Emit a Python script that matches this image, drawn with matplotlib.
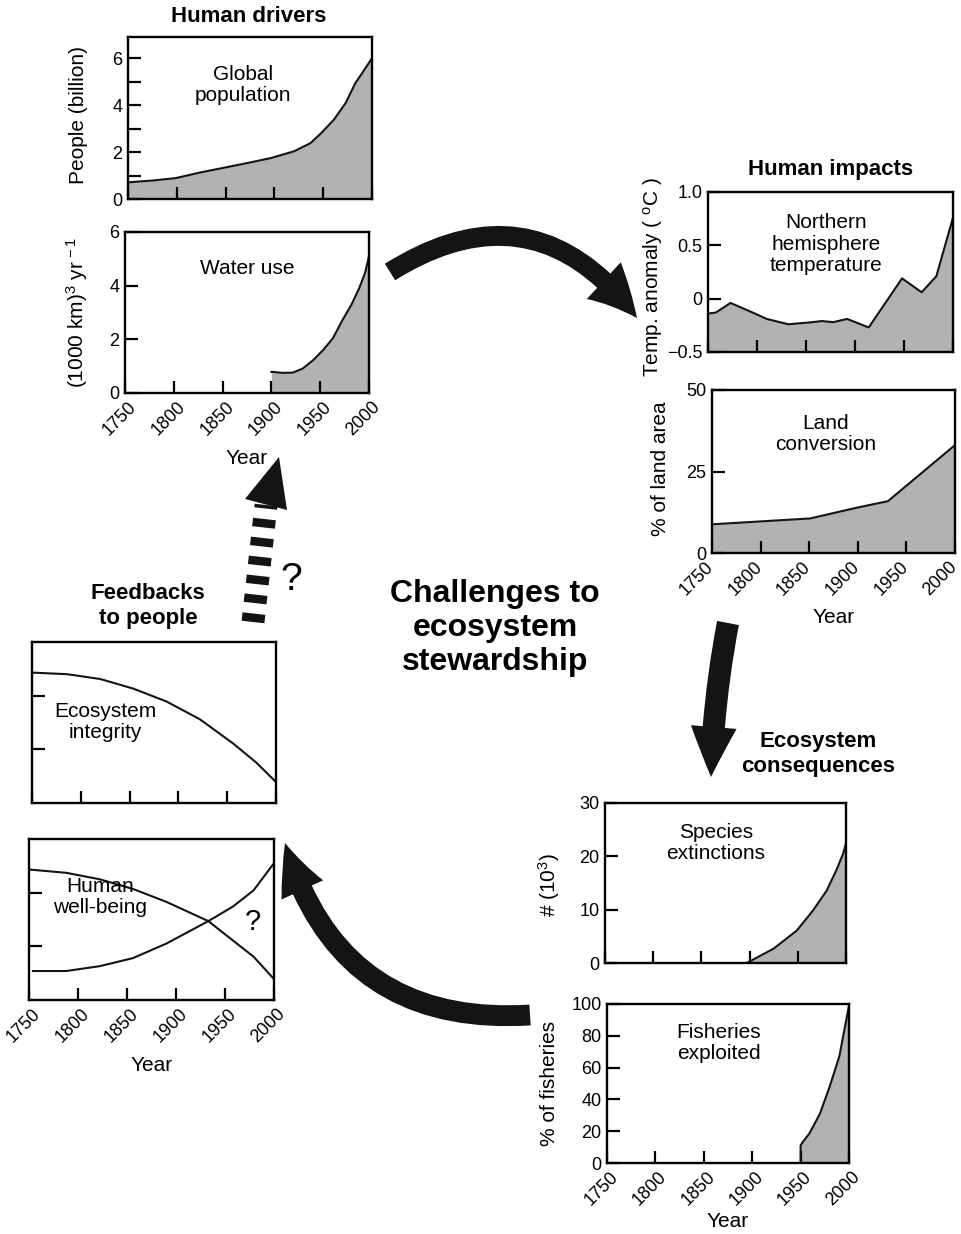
import numpy as np
import matplotlib
matplotlib.use('Agg')
import matplotlib.pyplot as plt
import matplotlib.transforms as mtransforms
from matplotlib.patches import FancyArrowPatch, Polygon

plt.rcParams['font.family'] = ['Liberation Sans', 'DejaVu Sans']
plt.rcParams['mathtext.fontset'] = 'custom'
plt.rcParams['mathtext.rm'] = 'Liberation Sans'
plt.rcParams['mathtext.it'] = 'Liberation Sans:italic'
plt.rcParams['lines.scale_dashes'] = False

W, H = 961, 1234
GREY = '#b2b2b2'
INK = '#141414'

# ---- data ----
year_ticks = [1750, 1800, 1850, 1900, 1950, 2000]

pop_years = [1750, 1776, 1799, 1824, 1847, 1872, 1896, 1920, 1937, 1948, 1961, 1973, 1983, 1991, 2000]
pop_vals = [0.71, 0.79, 0.89, 1.13, 1.32, 1.53, 1.74, 2.03, 2.38, 2.81, 3.38, 4.09, 4.94, 5.43, 6.0]

water_years = [1900, 1912, 1922, 1932, 1943, 1953, 1963, 1973, 1982, 1990, 1996, 2000]
water_vals = [0.79, 0.75, 0.76, 0.91, 1.23, 1.6, 2.04, 2.73, 3.29, 3.91, 4.48, 5.1]

temp_years = [1750, 1758, 1773, 1798, 1810, 1832, 1857, 1866, 1878, 1892, 1914, 1948, 1968, 1983, 2000]
temp_vals = [-0.14, -0.13, -0.04, -0.14, -0.19, -0.24, -0.22, -0.21, -0.22, -0.19, -0.27, 0.19, 0.06, 0.21, 0.76]

land_years = [1750, 1851, 1899, 1931, 2000]
land_vals = [8.8, 10.6, 13.9, 15.9, 33.1]

species_years = [1897, 1925, 1949, 1966, 1980, 1990, 1997, 2000]
species_vals = [0.0, 2.7, 6.1, 9.9, 13.6, 17.4, 20.5, 22.4]

fish_years = [1950, 1950, 1952, 1959, 1970, 1980, 1990, 2000]
fish_vals = [0, 11, 13, 18.5, 31, 48, 67, 99]

eco_years = [1750, 1786, 1820, 1854, 1888, 1922, 1956, 1980, 2000]
eco_vals = [0.81, 0.80, 0.77, 0.71, 0.63, 0.52, 0.37, 0.25, 0.13]

wb_down_years = [1751, 1788, 1822, 1856, 1890, 1933, 1958, 1979, 2000]
wb_down_vals = [0.81, 0.79, 0.75, 0.69, 0.61, 0.49, 0.37, 0.27, 0.13]
wb_up_years = [1754, 1788, 1822, 1856, 1890, 1933, 1958, 1979, 2000]
wb_up_vals = [0.18, 0.18, 0.21, 0.26, 0.35, 0.49, 0.58, 0.68, 0.85]

fig = plt.figure(figsize=(W / 100, H / 100), dpi=100)


def panel(left, top, right, bottom):
    return fig.add_axes([left / W, 1 - bottom / H, (right - left) / W, (bottom - top) / H])


def style(ax, xlabels=False, year_y=None, shift=0):
    for s in ax.spines.values():
        s.set_linewidth(1.7)
    ax.tick_params(direction='in', length=9, width=1.6, labelsize=13, pad=4,
                   top=False, right=False)
    ax.set_xlim(1750, 2000)
    ax.set_xticks(year_ticks)
    if xlabels:
        ax.set_xticklabels([str(y) for y in year_ticks], rotation=45,
                           ha='right', va='top', rotation_mode='anchor')
        off = mtransforms.ScaledTranslation(shift / 72, 0, fig.dpi_scale_trans)
        for lab in ax.get_xticklabels():
            lab.set_transform(lab.get_transform() + off)
        ax.set_xlabel('Year', fontsize=15)
        ax.xaxis.set_label_coords(0.5, year_y)
    else:
        ax.set_xticklabels([])


def area(ax, x, y):
    ax.fill_between(x, y, 0, color=GREY, lw=0)
    ax.plot(x, y, color=INK, lw=1.5)


YL = 15

# Global population
ax = panel(128, 37, 372, 199)
area(ax, pop_years, pop_vals)
ax.set_ylim(0, 6.9)
ax.set_yticks(range(7))
ax.set_yticklabels(['0', '', '2', '', '4', '', '6'])
style(ax)
ax.set_ylabel('People (billion)', fontsize=YL)
ax.yaxis.set_label_coords(-0.165, 0.52)

# Water use
ax = panel(125, 232, 369, 393)
area(ax, water_years, water_vals)
ax.set_ylim(0, 6)
ax.set_yticks([0, 2, 4, 6])
style(ax, True, -0.35, shift=2)
ax.set_ylabel(r'(1000 km)$^3$ yr$^{\,-1}$', fontsize=YL)
ax.yaxis.set_label_coords(-0.145, 0.5)

# Northern hemisphere temperature
ax = panel(708, 192, 953, 352)
ax.fill_between(temp_years, temp_vals, -0.5, color=GREY, lw=0)
ax.plot(temp_years, temp_vals, color=INK, lw=1.5)
ax.set_ylim(-0.5, 1.0)
ax.set_yticks([-0.5, 0, 0.5, 1.0])
ax.set_yticklabels(['\u22120.5', '0', '0.5', '1.0'])
style(ax)
ax.set_ylabel(r'Temp. anomaly ( $^{\rm o}$C )', fontsize=YL)
ax.yaxis.set_label_coords(-0.175, 0.47)

# Land conversion
ax = panel(712, 390, 955, 553)
area(ax, land_years, land_vals)
ax.set_ylim(0, 50)
ax.set_yticks([0, 25, 50])
style(ax, True, -0.34, shift=-5)
ax.set_ylabel('% of land area', fontsize=YL)
ax.yaxis.set_label_coords(-0.173, 0.52)

# Species extinctions
ax = panel(605, 803, 846, 963)
area(ax, species_years, species_vals)
ax.set_ylim(0, 30)
ax.set_yticks([0, 10, 20, 30])
style(ax)
ax.set_ylabel(r'# (10$^3$)', fontsize=YL)
ax.yaxis.set_label_coords(-0.178, 0.49)

# Fisheries exploited
ax = panel(607, 1004, 849, 1163)
area(ax, fish_years, fish_vals)
ax.set_ylim(0, 100)
ax.set_yticks([0, 20, 40, 60, 80, 100])
style(ax, True, -0.31, shift=2)
ax.set_ylabel('% of fisheries', fontsize=YL)
ax.yaxis.set_label_coords(-0.2, 0.5)

# Ecosystem integrity
ax = panel(32, 642, 276, 803)
ax.plot(eco_years, eco_vals, color=INK, lw=1.5)
ax.set_ylim(0, 1)
ax.set_yticks([1 / 3, 2 / 3])
ax.set_yticklabels([])
style(ax)

# Human well-being
ax = panel(29, 839, 274, 1000)
ax.plot(wb_down_years, wb_down_vals, color=INK, lw=1.5)
ax.plot(wb_up_years, wb_up_vals, color=INK, lw=1.5)
ax.set_ylim(0, 1)
ax.set_yticks([1 / 3, 2 / 3])
ax.set_yticklabels([])
style(ax, True, -0.35, shift=2)

# ---- overlay in pixel coordinates: titles, labels, arrows ----
ov = fig.add_axes([0, 0, 1, 1])
ov.set_xlim(0, W)
ov.set_ylim(H, 0)
ov.axis('off')
ov.patch.set_alpha(0)
ov.set_zorder(10)

bold = dict(fontsize=16, fontweight='bold', ha='center', va='center', linespacing=1.2)
ov.text(249, 17, 'Human drivers', **bold)
ov.text(831, 170, 'Human impacts', **bold)
ov.text(148, 606, 'Feedbacks\nto people', **bold)
ov.text(818, 754, 'Ecosystem\nconsequences', **bold)
ov.text(495, 628, 'Challenges to\necosystem\nstewardship', fontsize=23,
        fontweight='bold', ha='center', va='center', linespacing=1.18)

inner = dict(fontsize=15, ha='center', va='center', linespacing=1.15)
ov.text(243, 85, 'Global\npopulation', **inner)
ov.text(247, 269, 'Water use', **inner)
ov.text(826, 244, 'Northern\nhemisphere\ntemperature', **inner)
ov.text(826, 434, 'Land\nconversion', **inner)
ov.text(716, 843, 'Species\nextinctions', **inner)
ov.text(719, 1043, 'Fisheries\nexploited', **inner)
ov.text(105, 722, 'Ecosystem\nintegrity', **inner)
ov.text(100, 897, 'Human\nwell-being', **inner)
ov.text(253, 922, '?', fontsize=21, ha='center', va='center')
ov.text(291, 580, '?', fontsize=28, ha='center', va='center')


def fat_arrow(p0, p1, rad, tail, hw, hl):
    ov.add_patch(FancyArrowPatch(
        p0, p1, connectionstyle=f'arc3,rad={rad}',
        arrowstyle=f'simple,head_length={hl},head_width={hw},tail_width={tail}',
        mutation_scale=1, color=INK, lw=0, shrinkA=0, shrinkB=0))


fat_arrow((390, 272), (637, 318), -0.46, 14, 36, 36)
fat_arrow((728, 623), (711, 777), 0.04, 16, 33, 36)
fat_arrow((530, 1015), (285, 843), -0.4, 15, 33, 36)

# dashed feedback arrow
ov.plot([253, 266], [622, 505], color=INK, lw=16.5, dashes=(6.1, 7.6), solid_capstyle='butt')
ov.add_patch(Polygon([(245, 499), (279, 457), (287, 510)], closed=True, color=INK, lw=0))

fig.savefig('out.png', dpi=100)
